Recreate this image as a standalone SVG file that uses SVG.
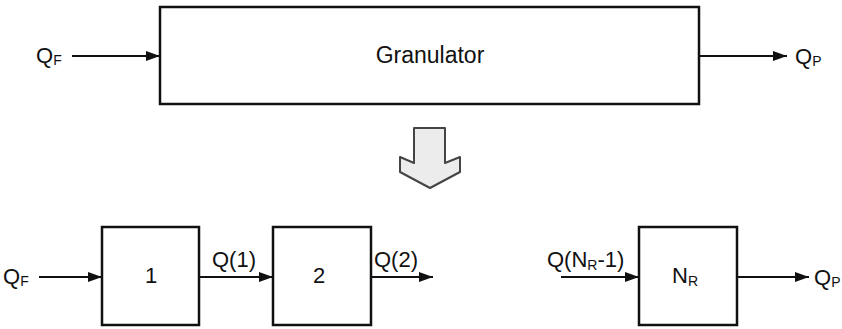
<svg xmlns="http://www.w3.org/2000/svg" width="842" height="329" viewBox="0 0 842 329">
<style>
.box{fill:#fff;stroke:#111;stroke-width:2.5}
.ln{stroke:#111;stroke-width:2.2;fill:none;marker-end:url(#ah)}
text{font-family:"Liberation Sans",Arial,sans-serif;fill:#111}
.lbl{font-size:22px}
.sub{font-size:14px}
.ctr{text-anchor:middle}
</style>
<defs>
<marker id="ah" markerUnits="userSpaceOnUse" markerWidth="16" markerHeight="12" refX="15" refY="6" orient="auto">
<path d="M1,1 L15,6 L1,11 Z" fill="#111"/>
</marker>
</defs>
<rect width="842" height="329" fill="#fff"/>
<g id="granulator">
<rect class="box" x="160" y="7" width="539" height="97"/>
<text class="ctr" x="430" y="63" font-size="23">Granulator</text>
</g>
<g id="down-arrow">
<polygon points="414,128 445,128 445,163 460,157 460,172 430,188 400,172 400,157 414,163" fill="#ececec" stroke="#444" stroke-width="2" stroke-linejoin="round"/>
</g>
<g id="reactor1">
<rect class="box" x="102" y="227" width="97" height="98"/>
<text class="lbl ctr" x="151" y="283">1</text>
</g>
<g id="reactor2">
<rect class="box" x="273" y="227" width="98" height="98"/>
<text class="lbl ctr" x="319" y="283">2</text>
</g>
<g id="reactorN">
<rect class="box" x="639" y="227" width="98" height="98"/>
<text x="672" y="283" class="lbl">N<tspan class="sub" dy="3">R</tspan></text>
</g>
<g id="connectors">
<line class="ln" x1="72" y1="56" x2="160" y2="56"/>
<line class="ln" x1="699" y1="56" x2="787" y2="56"/>
<line class="ln" x1="39" y1="277" x2="102" y2="277"/>
<line class="ln" x1="199" y1="277" x2="273" y2="277"/>
<line class="ln" x1="371" y1="277" x2="433" y2="277"/>
<line class="ln" x1="561" y1="277" x2="639" y2="277"/>
<line class="ln" x1="737" y1="277" x2="809" y2="277"/>
</g>
<g id="labels">
<text x="36" y="63" class="lbl">Q<tspan class="sub" dy="2">F</tspan></text>
<text x="795" y="64" class="lbl">Q<tspan class="sub" dy="2">P</tspan></text>
<text x="3" y="284" class="lbl">Q<tspan class="sub" dy="2">F</tspan></text>
<text x="814" y="285" class="lbl">Q<tspan class="sub" dy="2">P</tspan></text>
<text x="212" y="267" class="lbl">Q(1)</text>
<text x="374" y="267" class="lbl">Q(2)</text>
<text x="547" y="267" class="lbl">Q(N<tspan class="sub" dy="3">R</tspan><tspan dy="-3">-1)</tspan></text>
</g>
</svg>
